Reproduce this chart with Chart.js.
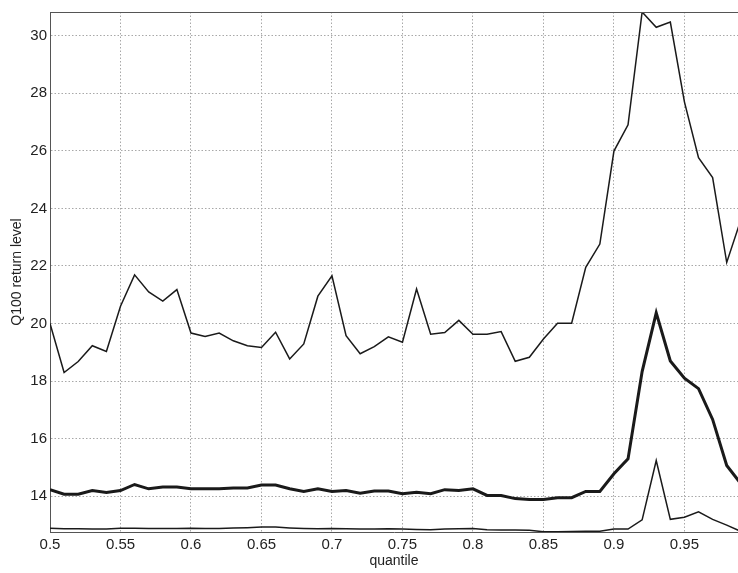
<!DOCTYPE html>
<html>
<head>
<meta charset="utf-8">
<script src="https://cdn.jsdelivr.net/npm/chart.js@4/dist/chart.umd.min.js"></script>
<style>
  html, body { margin: 0; padding: 0; background: #fff; }
  #wrap { width: 738px; height: 573px; }
</style>
</head>
<body>
<div id="wrap"><canvas id="c" width="738" height="573"></canvas></div>
<script>
// Quantile levels (0.50 ... 0.99)
const quantiles = [
  0.50, 0.51, 0.52, 0.53, 0.54, 0.55, 0.56, 0.57, 0.58, 0.59,
  0.60, 0.61, 0.62, 0.63, 0.64, 0.65, 0.66, 0.67, 0.68, 0.69,
  0.70, 0.71, 0.72, 0.73, 0.74, 0.75, 0.76, 0.77, 0.78, 0.79,
  0.80, 0.81, 0.82, 0.83, 0.84, 0.85, 0.86, 0.87, 0.88, 0.89,
  0.90, 0.91, 0.92, 0.93, 0.94, 0.95, 0.96, 0.97, 0.98, 0.99
];

// Upper bound of the Q100 return level
const upperBound = [
  20.00, 18.30, 18.68, 19.23, 19.03, 20.60, 21.69, 21.10, 20.78, 21.18,
  19.67, 19.55, 19.67, 19.40, 19.23, 19.17, 19.70, 18.77, 19.29, 20.95,
  21.66, 19.58, 18.95, 19.20, 19.54, 19.35, 21.20, 19.63, 19.69, 20.11,
  19.63, 19.63, 19.72, 18.69, 18.83, 19.46, 20.01, 20.01, 21.95, 22.76,
  25.99, 26.90, 30.82, 30.29, 30.47, 27.70, 25.76, 25.07, 22.12, 23.60
];

// Estimated Q100 return level
const estimate = [
  14.23, 14.07, 14.07, 14.20, 14.13, 14.20, 14.41, 14.26, 14.32, 14.32,
  14.26, 14.26, 14.26, 14.29, 14.29, 14.39, 14.39, 14.26, 14.17, 14.26,
  14.17, 14.20, 14.11, 14.18, 14.18, 14.09, 14.14, 14.09, 14.23, 14.20,
  14.26, 14.03, 14.03, 13.92, 13.89, 13.89, 13.95, 13.95, 14.17, 14.17,
  14.78, 15.30, 18.33, 20.37, 18.70, 18.10, 17.74, 16.67, 15.07, 14.44
];

// Lower bound of the Q100 return level
const lowerBound = [
  12.89, 12.87, 12.87, 12.86, 12.86, 12.89, 12.89, 12.88, 12.88, 12.88,
  12.89, 12.88, 12.88, 12.90, 12.91, 12.93, 12.93, 12.90, 12.88, 12.87,
  12.88, 12.87, 12.86, 12.86, 12.87, 12.86, 12.85, 12.84, 12.86, 12.87,
  12.88, 12.84, 12.83, 12.83, 12.82, 12.77, 12.77, 12.78, 12.79, 12.79,
  12.86, 12.86, 13.18, 15.24, 13.20, 13.27, 13.46, 13.20, 13.00, 12.78
];

// Axis tick labels
const xTicks = [0.5, 0.55, 0.6, 0.65, 0.7, 0.75, 0.8, 0.85, 0.9, 0.95];
const yTicks = [14, 16, 18, 20, 22, 24, 26, 28, 30];

const toPoints = (ys) => quantiles.map((q, i) => ({ x: q, y: ys[i] }));

const FONT = '"Liberation Sans", Arial, Helvetica, sans-serif';
const INK = '#1a1a1a';

// Frame line along the top of the plot area
const topFrame = {
  id: 'topFrame',
  afterDraw(chart) {
    const { ctx, chartArea } = chart;
    ctx.save();
    ctx.strokeStyle = '#555';
    ctx.lineWidth = 1;
    ctx.beginPath();
    ctx.moveTo(chartArea.left, Math.round(chartArea.top) + 0.5);
    ctx.lineTo(chartArea.right, Math.round(chartArea.top) + 0.5);
    ctx.stroke();
    ctx.restore();
  }
};

const line = (data, width) => ({
  data: toPoints(data),
  borderColor: INK,
  borderWidth: width,
  pointRadius: 0,
  tension: 0,
  fill: false
});

new Chart(document.getElementById('c'), {
  type: 'line',
  data: {
    datasets: [
      line(upperBound, 1.5),
      line(estimate, 3),
      line(lowerBound, 1.5)
    ]
  },
  plugins: [topFrame],
  options: {
    responsive: false,
    animation: false,
    devicePixelRatio: 1,
    layout: { padding: { top: 7, left: 0, right: 0, bottom: 0 } },
    plugins: {
      legend: { display: false },
      tooltip: { enabled: false }
    },
    scales: {
      x: {
        type: 'linear',
        min: 0.5,
        max: 0.988,
        afterBuildTicks: (s) => { s.ticks = xTicks.map(v => ({ value: v })); },
        afterFit: (s) => { s.height = 41; },
        ticks: {
          color: '#222',
          font: { family: FONT, size: 15 },
          padding: 4,
          maxRotation: 0,
          autoSkip: false,
          callback: (v) => String(Number(v.toFixed(2)))
        },
        grid: { color: '#a8a8a8', lineWidth: 1, drawTicks: false },
        border: { display: true, color: '#555', width: 1, dash: [1.5, 2] },
        title: {
          display: true,
          text: 'quantile',
          color: '#222',
          font: { family: FONT, size: 14 },
          padding: { top: 0, bottom: 3 }
        }
      },
      y: {
        type: 'linear',
        min: 12.76,
        max: 30.82,
        afterBuildTicks: (s) => { s.ticks = yTicks.map(v => ({ value: v })); },
        afterFit: (s) => { s.width = 50; },
        ticks: {
          color: '#222',
          font: { family: FONT, size: 15 },
          padding: 3,
          autoSkip: false
        },
        grid: { color: '#a8a8a8', lineWidth: 1, drawTicks: false },
        border: { display: true, color: '#555', width: 1, dash: [1.5, 2] },
        title: {
          display: true,
          text: 'Q100 return level',
          color: '#222',
          font: { family: FONT, size: 14 },
          padding: { top: 9, bottom: 0 }
        }
      }
    }
  }
});
</script>
</body>
</html>
